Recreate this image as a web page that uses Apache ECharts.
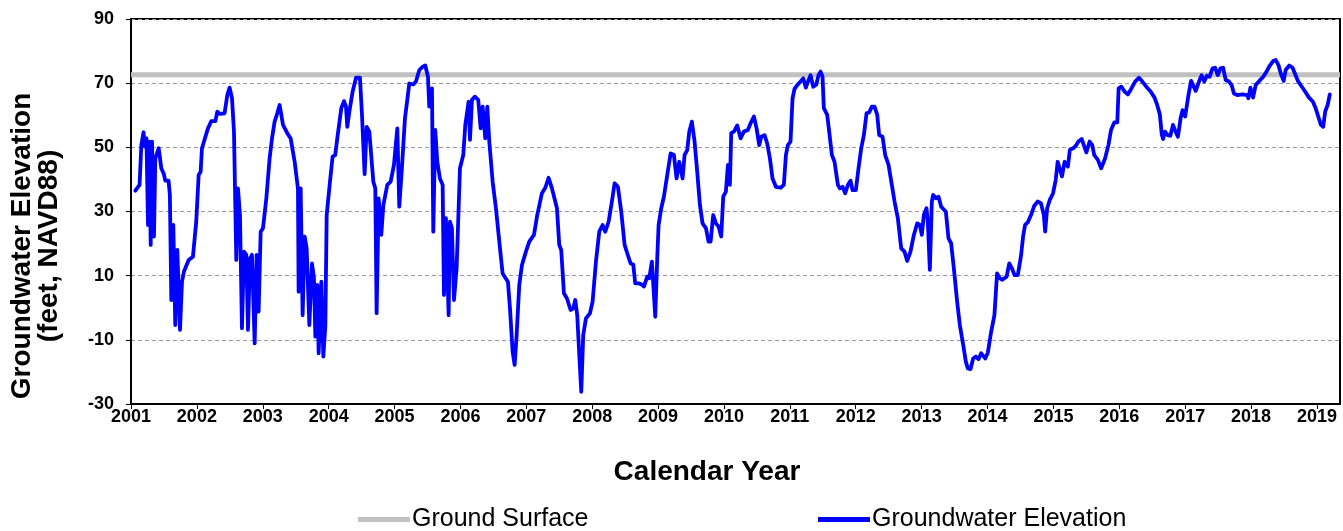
<!DOCTYPE html>
<html>
<head>
<meta charset="utf-8">
<script src="https://cdn.jsdelivr.net/npm/echarts@6/dist/echarts.min.js"></script>
<style>
  html, body { margin: 0; padding: 0; background: #fff; }
  #chart { width: 1343px; height: 531px; }
</style>
</head>
<body>
<div id="chart"></div>
<script>
// Well hydrograph: measured groundwater elevation vs. land surface, 2001-2019
const FONT = 'Arial, "Liberation Sans", sans-serif';

// decimal calendar year of each measurement
const years = [
  2001.066, 2001.13, 2001.157, 2001.19, 2001.21, 2001.235, 2001.258, 2001.278, 2001.299, 2001.319,
  2001.349, 2001.369, 2001.42, 2001.46, 2001.50, 2001.52, 2001.57, 2001.59, 2001.612, 2001.642,
  2001.672, 2001.703, 2001.744, 2001.774, 2001.804, 2001.875, 2001.94, 2001.99, 2002.027, 2002.057,
  2002.077, 2002.168, 2002.219, 2002.28, 2002.31, 2002.345, 2002.42, 2002.462, 2002.497, 2002.533,
  2002.563, 2002.598, 2002.624, 2002.654, 2002.684, 2002.715, 2002.75, 2002.776, 2002.806, 2002.836,
  2002.877, 2002.907, 2002.937, 2002.968, 2003.003, 2003.054, 2003.104, 2003.14, 2003.18, 2003.22,
  2003.256, 2003.282, 2003.307, 2003.372, 2003.423, 2003.484, 2003.534, 2003.544, 2003.575, 2003.605,
  2003.636, 2003.666, 2003.707, 2003.747, 2003.777, 2003.798, 2003.828, 2003.848, 2003.889, 2003.919,
  2003.95, 2003.97, 2004.02, 2004.06, 2004.10, 2004.131, 2004.192, 2004.233, 2004.263, 2004.283,
  2004.314, 2004.364, 2004.415, 2004.475, 2004.506, 2004.546, 2004.577, 2004.617, 2004.647, 2004.678,
  2004.708, 2004.728, 2004.759, 2004.799, 2004.83, 2004.89, 2004.941, 2004.991, 2005.042, 2005.072,
  2005.113, 2005.158, 2005.224, 2005.285, 2005.325, 2005.376, 2005.426, 2005.467, 2005.507, 2005.527,
  2005.568, 2005.588, 2005.618, 2005.649, 2005.689, 2005.73, 2005.75, 2005.78, 2005.821, 2005.841,
  2005.871, 2005.902, 2005.942, 2005.993, 2006.043, 2006.074, 2006.124, 2006.145, 2006.175, 2006.22,
  2006.27, 2006.307, 2006.337, 2006.377, 2006.408, 2006.438, 2006.489, 2006.539, 2006.59, 2006.64,
  2006.721, 2006.752, 2006.792, 2006.823, 2006.853, 2006.893, 2006.934, 2006.994, 2007.045, 2007.116,
  2007.166, 2007.237, 2007.288, 2007.338, 2007.389, 2007.465, 2007.5, 2007.53, 2007.571, 2007.617,
  2007.672, 2007.713, 2007.743, 2007.773, 2007.804, 2007.834, 2007.864, 2007.905, 2007.966, 2008.006,
  2008.057, 2008.107, 2008.158, 2008.198, 2008.249, 2008.299, 2008.34, 2008.39, 2008.441, 2008.492,
  2008.532, 2008.583, 2008.623, 2008.653, 2008.704, 2008.744, 2008.785, 2008.835, 2008.866, 2008.906,
  2008.937, 2008.957, 2008.987, 2009.008, 2009.048, 2009.088, 2009.139, 2009.19, 2009.24, 2009.281,
  2009.321, 2009.372, 2009.402, 2009.443, 2009.473, 2009.513, 2009.554, 2009.594, 2009.635, 2009.675,
  2009.726, 2009.766, 2009.797, 2009.837, 2009.877, 2009.918, 2009.958, 2009.989, 2010.029, 2010.06,
  2010.09, 2010.11, 2010.151, 2010.201, 2010.252, 2010.302, 2010.363, 2010.404, 2010.454, 2010.495,
  2010.535, 2010.565, 2010.616, 2010.656, 2010.697, 2010.737, 2010.788, 2010.859, 2010.909, 2010.94,
  2010.97, 2011.01, 2011.041, 2011.071, 2011.112, 2011.162, 2011.203, 2011.243, 2011.284, 2011.314,
  2011.355, 2011.40, 2011.435, 2011.466, 2011.496, 2011.516, 2011.567, 2011.597, 2011.638, 2011.678,
  2011.729, 2011.759, 2011.8, 2011.84, 2011.881, 2011.921, 2011.951, 2012.002, 2012.042, 2012.083,
  2012.123, 2012.164, 2012.204, 2012.245, 2012.285, 2012.326, 2012.356, 2012.407, 2012.447, 2012.498,
  2012.548, 2012.589, 2012.639, 2012.69, 2012.74, 2012.781, 2012.831, 2012.882, 2012.933, 2012.973,
  2013.003, 2013.034, 2013.074, 2013.094, 2013.125, 2013.155, 2013.175, 2013.216, 2013.256, 2013.297,
  2013.368, 2013.408, 2013.448, 2013.489, 2013.539, 2013.58, 2013.631, 2013.671, 2013.701, 2013.742,
  2013.782, 2013.823, 2013.863, 2013.904, 2013.934, 2013.965, 2014.005, 2014.055, 2014.105, 2014.145,
  2014.185, 2014.225, 2014.29, 2014.33, 2014.37, 2014.41, 2014.46, 2014.51, 2014.54, 2014.57,
  2014.61, 2014.66, 2014.71, 2014.76, 2014.81, 2014.855, 2014.875, 2014.905, 2014.945, 2014.995,
  2015.035, 2015.065, 2015.095, 2015.13, 2015.17, 2015.22, 2015.25, 2015.30, 2015.34, 2015.38,
  2015.43, 2015.47, 2015.50, 2015.55, 2015.59, 2015.62, 2015.675, 2015.725, 2015.785, 2015.835,
  2015.875, 2015.925, 2015.97, 2015.99, 2016.03, 2016.08, 2016.13, 2016.18, 2016.24, 2016.30,
  2016.35, 2016.41, 2016.475, 2016.535, 2016.575, 2016.615, 2016.645, 2016.665, 2016.695, 2016.735,
  2016.775, 2016.815, 2016.855, 2016.89, 2016.93, 2016.96, 2017.0, 2017.05, 2017.09, 2017.12,
  2017.16, 2017.21, 2017.25, 2017.29, 2017.33, 2017.37, 2017.415, 2017.455, 2017.495, 2017.535,
  2017.575, 2017.615, 2017.665, 2017.705, 2017.74, 2017.79, 2017.87, 2017.94, 2017.96, 2017.99,
  2018.03, 2018.07, 2018.125, 2018.185, 2018.235, 2018.285, 2018.335, 2018.375, 2018.415, 2018.455,
  2018.495, 2018.525, 2018.58, 2018.63, 2018.67, 2018.71, 2018.76, 2018.82, 2018.88, 2018.94,
  2018.98, 2019.02, 2019.06, 2019.095, 2019.125, 2019.165, 2019.195
];

// groundwater elevation, feet NAVD88
const elevations = [
  36.5, 38.3, 50.7, 54.7, 50.2, 52.8, 25.8, 51.8, 19.6, 51.8,
  22.2, 46.6, 49.7, 43.5, 41.6, 39.6, 39.6, 35.2, 2.4, 25.8,
  -5.4, 18.0, -6.9, 8.1, 11.3, 14.9, 15.9, 26.8, 41.4, 42.4,
  49.7, 55.9, 58.2, 58.2, 61.1, 60.4, 60.6, 66.3, 68.6, 65.3,
  54.9, 14.9, 37.2, 28.9, -6.4, 17.5, 16.5, -6.9, 15.4, 16.5,
  -11.1, 16.5, -1.2, 23.7, 24.8, 34.1, 46.6, 52.8, 58.0, 60.6,
  63.2, 63.2, 57.0, 54.4, 52.8, 45.5, 37.2, 5.0, 37.2, -2.3,
  22.2, 18.5, -5.4, 13.8, 9.2, -9.0, 7.1, -14.2, 8.1, -15.2,
  -5.4, 28.9, 39.3, 47.1, 47.6, 52.8, 62.2, 64.4, 62.7, 56.4,
  61.1, 67.4, 71.7, 71.7, 60.1, 41.6, 56.4, 54.9, 54.4, 39.3,
  37.2, -1.7, 34.1, 22.7, 32.0, 38.3, 39.3, 44.5, 55.9, 31.5,
  44.0, 59.0, 69.9, 69.6, 70.5, 74.1, 75.1, 75.5, 72.0, 62.7,
  68.4, 23.7, 55.4, 45.5, 40.3, 38.3, 4.0, 27.9, -2.3, 26.8,
  24.8, 2.4, 12.3, 43.5, 47.6, 57.0, 64.2, 52.3, 64.8, 65.8,
  64.8, 55.9, 62.7, 52.8, 62.7, 51.8, 39.3, 31.0, 20.6, 10.7,
  8.1, -0.2, -13.7, -17.8, -8.5, 7.1, 13.3, 17.5, 20.6, 22.7,
  28.9, 35.7, 37.4, 40.5, 37.2, 31.0, 19.6, 18.0, 4.5, 2.9,
  -0.7, -0.2, 2.4, -2.3, -14.7, -26.2, -8.5, -3.3, -1.7, 1.9,
  14.4, 23.7, 25.8, 23.7, 26.8, 33.1, 38.8, 37.7, 29.9, 19.6,
  17.0, 13.8, 13.5, 7.6, 7.6, 7.3, 6.6, 9.7, 9.2, 14.4,
  4.0, -2.8, 15.4, 25.8, 31.0, 34.6, 41.4, 48.1, 47.6, 40.3,
  45.5, 40.3, 47.6, 49.2, 54.9, 58.0, 51.8, 42.4, 32.0, 26.3,
  24.8, 20.6, 20.6, 28.9, 26.3, 25.3, 22.2, 34.6, 36.2, 44.5,
  38.3, 54.4, 54.9, 56.8, 52.8, 54.9, 55.4, 57.5, 59.6, 55.9,
  50.7, 53.3, 53.8, 51.2, 46.6, 40.3, 37.7, 37.4, 38.3, 47.6,
  50.7, 51.8, 65.3, 68.2, 69.4, 70.5, 71.5, 68.6, 71.0, 72.5,
  68.9, 69.5, 72.5, 73.6, 72.0, 62.2, 60.1, 54.9, 47.6, 45.5,
  38.3, 37.2, 37.7, 35.7, 38.3, 39.6, 36.7, 36.7, 43.5, 49.7,
  53.8, 60.6, 60.9, 62.7, 62.7, 60.1, 53.8, 53.3, 47.6, 44.5,
  38.3, 33.1, 27.9, 18.5, 17.5, 14.6, 17.5, 22.7, 26.3, 25.8,
  22.7, 28.9, 31.0, 26.8, 11.8, 33.1, 35.2, 34.1, 34.6, 31.5,
  29.9, 21.6, 20.1, 12.3, 1.9, -5.4, -11.6, -16.8, -18.9, -19.1,
  -15.8, -15.2, -16.0, -14.2, -14.7, -15.8, -14.0, -7.5, -2.3, 10.7,
  9.2, 8.7, 9.7, 13.8, 12.3, 10.2, 10.2, 16.4, 22.2, 25.8,
  26.6, 28.9, 31.8, 33.1, 32.6, 28.9, 23.7, 31.0, 33.6, 35.7,
  39.8, 45.5, 43.5, 40.9, 45.5, 44.0, 49.2, 49.7, 50.5, 51.8,
  52.6, 50.2, 48.4, 51.8, 50.7, 47.6, 46.1, 43.5, 46.6, 50.7,
  55.4, 57.8, 57.8, 68.4, 68.9, 67.4, 66.5, 68.2, 70.5, 71.7,
  70.5, 68.9, 67.4, 65.5, 63.2, 60.3, 54.0, 52.6, 54.9, 53.8,
  53.6, 57.0, 54.9, 53.3, 59.0, 61.6, 59.6, 66.3, 70.7, 69.4,
  67.6, 70.5, 72.5, 70.5, 72.3, 72.0, 74.6, 74.8, 72.5, 74.6,
  74.8, 71.0, 70.5, 69.4, 66.8, 66.3, 66.5, 66.3, 65.3, 68.6,
  65.5, 69.4, 70.7, 72.0, 73.6, 75.5, 76.9, 77.2, 75.7, 72.8,
  70.7, 74.1, 75.5, 74.8, 72.8, 70.7, 69.2, 67.4, 65.5, 64.2,
  62.2, 59.6, 57.0, 56.4, 61.1, 63.4, 66.5
];

// land surface elevation at the well, feet NAVD88
const groundSurface = 72.6;

// axis extents and tick positions
const yearRange = [2001, 2019.35];
const yearTicks = [2001, 2002, 2003, 2004, 2005, 2006, 2007, 2008, 2009, 2010,
                   2011, 2012, 2013, 2014, 2015, 2016, 2017, 2018, 2019];
const elevationRange = [-30, 90];
const elevationTicks = [-30, -10, 10, 30, 50, 70, 90];

// axis titles
const xTitle = 'Calendar Year';
const yTitle = 'Groundwater Elevation\n(feet, NAVD88)';

const chart = echarts.init(document.getElementById('chart'), null, { renderer: 'canvas' });

const legendText = { fontFamily: FONT, fontSize: 25, color: '#000', padding: [0, 0, 0, -3] };

chart.setOption({
  animation: false,
  backgroundColor: '#ffffff',
  textStyle: { fontFamily: FONT, color: '#000' },
  grid: {
    left: 131, right: 3, top: 19, bottom: 127,
    show: true, borderColor: '#000', borderWidth: 2,
    containLabel: false, outerBoundsMode: 'none'
  },
  graphic: [
    {
      type: 'text', x: 707, y: 472, silent: true,
      style: { text: xTitle, font: 'bold 28px ' + FONT, fill: '#000', align: 'center', verticalAlign: 'middle' }
    },
    {
      type: 'text', x: 36, y: 246, rotation: Math.PI / 2, silent: true,
      style: { text: yTitle, font: 'bold 28px ' + FONT, fill: '#000', align: 'center', verticalAlign: 'middle', lineHeight: 27 }
    }
  ],
  legend: [
    {
      data: ['Ground Surface'],
      left: 358, top: 507, padding: 0,
      icon: 'rect', itemWidth: 52, itemHeight: 5, itemGap: 0,
      textStyle: legendText
    },
    {
      data: ['Groundwater Elevation'],
      left: 818, top: 507, padding: 0,
      icon: 'rect', itemWidth: 52, itemHeight: 5, itemGap: 0,
      textStyle: legendText
    }
  ],
  xAxis: {
    type: 'value',
    min: yearRange[0], max: yearRange[1],
    axisLine: { show: true, onZero: false, lineStyle: { color: '#000', width: 2 } },
    axisTick: { show: true, length: 5, lineStyle: { color: '#000', width: 1 }, customValues: yearTicks },
    axisLabel: {
      customValues: yearTicks,
      margin: 4,
      fontFamily: FONT, fontSize: 18, fontWeight: 'bold', color: '#000',
      formatter: v => String(Math.round(v))
    },
    splitLine: { show: false }
  },
  yAxis: {
    type: 'value',
    min: elevationRange[0], max: elevationRange[1],
    axisLine: { show: true, onZero: false, lineStyle: { color: '#000', width: 2 } },
    axisTick: { show: true, length: 5, lineStyle: { color: '#000', width: 1 }, customValues: elevationTicks },
    axisLabel: {
      customValues: elevationTicks,
      margin: 17,
      fontFamily: FONT, fontSize: 18, fontWeight: 'bold', color: '#000'
    },
    splitLine: { show: true, lineStyle: { color: '#9a9a9a', width: 1, type: [4, 3] } }
  },
  series: [
    {
      name: 'Ground Surface',
      type: 'line',
      data: [[yearRange[0], groundSurface], [yearRange[1], groundSurface]],
      showSymbol: false, symbol: 'none',
      lineStyle: { color: '#c0c0c0', width: 5 },
      itemStyle: { color: '#c0c0c0' },
      silent: true, z: 2
    },
    {
      name: 'Groundwater Elevation',
      type: 'line',
      data: years.map((t, i) => [t, elevations[i]]),
      showSymbol: false, symbol: 'none',
      lineStyle: { color: '#0000ff', width: 3.8, join: 'round', cap: 'round' },
      itemStyle: { color: '#0000ff' },
      silent: true, z: 3
    }
  ]
});
</script>
</body>
</html>
